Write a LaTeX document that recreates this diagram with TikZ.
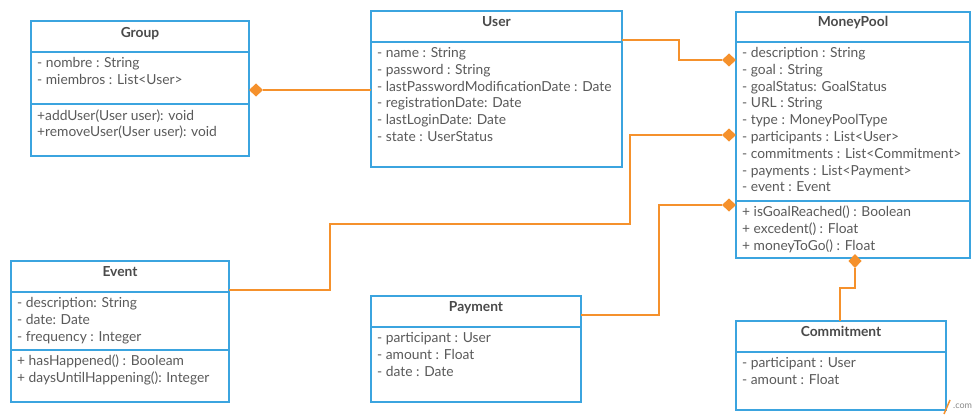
\documentclass[tikz,border=0pt]{standalone}
\usepackage{fontspec}
\setmainfont{Lato}
\usetikzlibrary{shapes.geometric,calc}
\definecolor{umlblue}{HTML}{3BA4DF}
\definecolor{umlorange}{HTML}{F5912C}
\definecolor{umltext}{HTML}{5A5A5A}
\definecolor{umltitle}{HTML}{4A4A4A}
\definecolor{wmgray}{HTML}{8A8A8A}
\tikzset{
  classbox/.style={draw=umlblue, line width=2pt, outer sep=0pt, inner sep=0pt, anchor=north west},
  divider/.style={draw=umlblue, line width=2pt},
  attr/.style={anchor=mid west, inner sep=0pt, font=\fontsize{13.8}{16}\selectfont, text=umltext},
  ctitle/.style={anchor=mid, inner sep=0pt, font=\fontsize{13.8}{16}\selectfont\bfseries, text=umltitle},
  conn/.style={draw=umlorange, line width=2pt},
  aggr/.style={diamond, fill=umlorange, inner sep=0pt, minimum width=14pt, minimum height=13pt, outer sep=0pt}
}
\begin{document}
\begin{tikzpicture}[x=1pt,y=-1pt]
\useasboundingbox[fill=white] (0,0) rectangle (980,420);

% Group
\node[classbox, minimum width=218pt, minimum height=135pt] (group) at (31,21) {};
\draw[divider] (group.west |- 0,52) -- (group.east |- 0,52);
\draw[divider] (group.west |- 0,104) -- (group.east |- 0,104);
\node[ctitle] (groupT) at (140,35) {Group};
\node[attr] (groupA1) at (37,65) {- nombre : String};
\node[attr] (groupA2) at (37,82) {- miembros : List<User>};
\node[attr] (groupM1) at (37,118) {+addUser(User user): void};
\node[attr] (groupM2) at (37,134) {+removeUser(User user): void};

% User
\node[classbox, minimum width=251pt, minimum height=156pt] (user) at (371,11) {};
\draw[divider] (user.west |- 0,42) -- (user.east |- 0,42);
\node[ctitle] (userT) at (496.5,24) {User};
\node[attr] (userA1) at (377,55) {- name : String};
\node[attr] (userA2) at (377,72) {- password : String};
\node[attr] (userA3) at (377,89) {- lastPasswordModificationDate : Date};
\node[attr] (userA4) at (377,105) {- registrationDate: Date};
\node[attr] (userA5) at (377,122) {- lastLoginDate: Date};
\node[attr] (userA6) at (377,139) {- state : UserStatus};

% MoneyPool
\node[classbox, minimum width=234pt, minimum height=246pt] (money) at (736,12) {};
\draw[divider] (money.west |- 0,42) -- (money.east |- 0,42);
\draw[divider] (money.west |- 0,201) -- (money.east |- 0,201);
\node[ctitle] (moneyT) at (853,24) {MoneyPool};
\node[attr] (moneyA1) at (742,55) {- description : String};
\node[attr] (moneyA2) at (742,72) {- goal : String};
\node[attr] (moneyA3) at (742,89) {- goalStatus: GoalStatus};
\node[attr] (moneyA4) at (742,105) {- URL : String};
\node[attr] (moneyA5) at (742,122) {- type : MoneyPoolType};
\node[attr] (moneyA6) at (742,139) {- participants : List<User>};
\node[attr] (moneyA7) at (742,156) {- commitments : List<Commitment>};
\node[attr] (moneyA8) at (742,173) {- payments : List<Payment>};
\node[attr] (moneyA9) at (742,189) {- event : Event};
\node[attr] (moneyM1) at (742,214) {+ isGoalReached() : Boolean};
\node[attr] (moneyM2) at (742,231) {+ excedent() : Float};
\node[attr] (moneyM3) at (742,248) {+ moneyToGo() : Float};

% Event
\node[classbox, minimum width=218pt, minimum height=141pt] (event) at (11,261) {};
\draw[divider] (event.west |- 0,292) -- (event.east |- 0,292);
\draw[divider] (event.west |- 0,350) -- (event.east |- 0,350);
\node[ctitle] (eventT) at (120,274) {Event};
\node[attr] (eventA1) at (17,305) {- description: String};
\node[attr] (eventA2) at (17,322) {- date: Date};
\node[attr] (eventA3) at (17,339) {- frequency : Integer};
\node[attr] (eventM1) at (17,363) {+ hasHappened() : Booleam};
\node[attr] (eventM2) at (17,380) {+ daysUntilHappening(): Integer};

% Payment
\node[classbox, minimum width=210pt, minimum height=106pt] (payment) at (371,296) {};
\draw[divider] (payment.west |- 0,327) -- (payment.east |- 0,327);
\node[ctitle] (paymentT) at (476,309) {Payment};
\node[attr] (paymentA1) at (377,340) {- participant : User};
\node[attr] (paymentA2) at (377,357) {- amount : Float};
\node[attr] (paymentA3) at (377,374) {- date : Date};

% Commitment
\node[classbox, minimum width=210pt, minimum height=89pt] (commit) at (736,321) {};
\draw[divider] (commit.west |- 0,352) -- (commit.east |- 0,352);
\node[ctitle] (commitT) at (841,334) {Commitment};
\node[attr] (commitA1) at (742,365) {- participant : User};
\node[attr] (commitA2) at (742,382) {- amount : Float};

% Aggregation diamonds
\node[aggr, anchor=west] (dg) at (group.east |- 0,90) {};
\node[aggr, anchor=east] (d1) at (money.west |- 0,60) {};
\node[aggr, anchor=east] (d2) at (money.west |- 0,135) {};
\node[aggr, anchor=east] (d3) at (money.west |- 0,205) {};
\node[aggr, minimum width=13pt, minimum height=14pt] (d4) at (855,261) {};

% Connectors
\draw[conn] (dg.east) -- (user.west |- dg.east);
\draw[conn] (user.east |- 0,40) -- (679,40) |- (d1.west);
\draw[conn] (event.east |- 0,290) -- (330,290) -- (330,224) -- (630,224) |- (d2.west);
\draw[conn] (payment.east |- 0,315) -- (659,315) |- (d3.west);
\draw[conn] (commit.north -| 840,0) -- (840,288) -| (d4.south);

% Watermark
\draw[umlorange, line width=1.5pt] (944,414) -- (950,400);
\node[anchor=mid west, inner sep=0pt, font=\fontsize{9}{10}\selectfont, text=wmgray] (wm) at (953,406) {.com};
\end{tikzpicture}
\end{document}
